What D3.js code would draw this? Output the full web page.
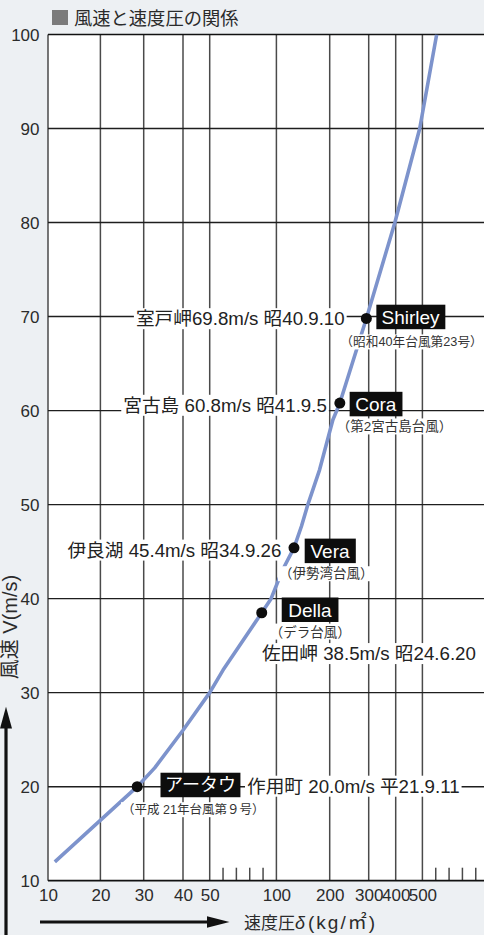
<!DOCTYPE html>
<html>
<head>
<meta charset="utf-8">
<script src="https://cdn.jsdelivr.net/npm/d3@7"></script>
<style>
  html, body { margin: 0; padding: 0; background: #edf0f3; }
  svg { display: block; font-family: "Liberation Sans", "Noto Sans CJK JP", sans-serif; }
</style>
</head>
<body>
<svg id="chart" width="484" height="935"></svg>
<script>
// 風速 V (m/s) と速度圧 δ (kg/m²) の関係曲線
const curvePressure = [11.3, 28.5, 32.8, 40, 50, 60, 89, 96, 112, 133, 147, 159, 181, 208, 226, 294, 397, 490, 607];
const curveSpeed    = [12.0, 20.0, 22.0, 26, 30, 32.4, 38.5, 40, 43.1, 45.4, 47.7, 50, 53.7, 59, 60.8, 69.8, 80, 90, 100];

// 主な台風の記録
const typhoonNames = ["アータウ", "Della", "Vera", "Cora", "Shirley"];
const typhoonRecords = ["作用町 20.0m/s 平21.9.11", "佐田岬 38.5m/s 昭24.6.20", "伊良湖 45.4m/s 昭34.9.26", "宮古島 60.8m/s 昭41.9.5", "室戸岬69.8m/s 昭40.9.10"];
const typhoonNotes = ["（平成 21年台風第９号）", "（デラ台風）", "（伊勢湾台風）", "（第2宮古島台風）", "（昭和40年台風第23号）"];
const typhoonSpeed = [20.0, 38.5, 45.4, 60.8, 69.8];
const typhoonPressure = [28.5, 89, 133, 226, 294];

// 目盛
const xBreaks = [10, 20, 30, 40, 50, 100, 200, 300, 400, 500, 1000];
const xTickLabels = [10, 20, 30, 40, 50, 100, 200, 300, 400, 500];
const xMinorTicks = [60, 70, 80, 90, 600, 700, 800, 900];
const yTicks = [10, 20, 30, 40, 50, 60, 70, 80, 90, 100];

const W = 484, H = 935;
const plotLeft = 48, plotTop = 34.5, plotBottom = 880.7;
const svg = d3.select("#chart");

// 横軸は区間ごとに目盛間隔が異なる折れ線スケール
const xOffsets = [0, 52.4, 95.7, 135, 161.7, 228.4, 281.7, 320.7, 347.7, 374.4, 441.1];
const x = d3.scaleLinear().domain(xBreaks).range(xOffsets.map(o => plotLeft + o));
const y = d3.scaleLinear().domain([10, 100]).range([plotBottom, plotTop]);

// タイトル
svg.append("rect").attr("x", 52).attr("y", 10).attr("width", 16).attr("height", 15).attr("fill", "#7b7b7b");
svg.append("text").attr("x", 74).attr("y", 24.5).attr("font-size", 18.3).attr("fill", "#2b2b2b")
  .text("風速と速度圧の関係");

// 描画領域
svg.append("rect").attr("x", plotLeft).attr("y", plotTop)
  .attr("width", W - plotLeft).attr("height", plotBottom - plotTop).attr("fill", "#fff");

svg.append("defs").append("clipPath").attr("id", "plot")
  .append("rect").attr("x", plotLeft).attr("y", plotTop)
  .attr("width", W - plotLeft).attr("height", plotBottom - plotTop);

// 縦の目盛線
svg.append("g").selectAll("line").data(xTickLabels).join("line")
  .attr("x1", d => x(d)).attr("x2", d => x(d))
  .attr("y1", plotTop).attr("y2", plotBottom)
  .attr("stroke", "#4a4a4a").attr("stroke-width", 1.5);

// 補助目盛
svg.append("g").selectAll("line").data(xMinorTicks).join("line")
  .attr("x1", d => x(d)).attr("x2", d => x(d))
  .attr("y1", plotBottom - 13).attr("y2", plotBottom)
  .attr("stroke", "#4a4a4a").attr("stroke-width", 1.5);

// 横の目盛線
svg.append("g").selectAll("line").data(yTicks).join("line")
  .attr("x1", plotLeft).attr("x2", W)
  .attr("y1", d => y(d)).attr("y2", d => y(d))
  .attr("stroke", d => (d === 10 || d === 100) ? "#111" : "#1e1e1e")
  .attr("stroke-width", d => (d === 10 || d === 100) ? 1.7 : 1.4);

// 目盛ラベル
const yAxis = svg.append("g").attr("transform", `translate(${plotLeft},0)`)
  .call(d3.axisLeft(y).tickValues(yTicks).tickSize(0).tickPadding(8.5).tickFormat(d3.format("d")));
yAxis.select(".domain").remove();
yAxis.selectAll("text").attr("font-size", 17).attr("font-family", null).attr("fill", "#2b2b2b").attr("dy", "0.36em");

const xAxis = svg.append("g").attr("transform", `translate(0,${plotBottom})`)
  .call(d3.axisBottom(x).tickValues(xTickLabels).tickSize(0).tickPadding(7.8).tickFormat(d3.format("d")));
xAxis.select(".domain").remove();
xAxis.selectAll("text").attr("font-size", 17).attr("font-family", null).attr("fill", "#2b2b2b");

// 関係曲線
const curveData = curvePressure.map((p, i) => [p, curveSpeed[i]]);
svg.append("path").datum(curveData)
  .attr("clip-path", "url(#plot)")
  .attr("d", d3.line().x(d => x(d[0])).y(d => y(d[1])))
  .attr("fill", "none").attr("stroke", "#7d93cc").attr("stroke-width", 3.6)
  .attr("stroke-linejoin", "round");

// 注記の配置（点からの相対位置）
const labelLayout = {
  "アータウ": { box: [23.3, -1.7], boxSize: 18, pad: 4.5, rec: [109.8, -0.7, "start"], note: [-15.2, 23], noteSize: 12.5 },
  "Della":   { box: [20, -3], boxSize: 19, pad: 6.5, rec: [0.2, 40.6, "start"], note: [8, 19], noteSize: 13.5 },
  "Vera":    { box: [10.7, 3], boxSize: 19, pad: 5.8, rec: [-12.6, 2, "end"], note: [-15, 25.5], noteSize: 13.5 },
  "Cora":    { box: [9.8, 1], boxSize: 19, pad: 5.6, rec: [-13, 2, "end"], note: [-3, 23.5], noteSize: 13.5 },
  "Shirley": { box: [10, -1.5], boxSize: 19, pad: 5.2, rec: [-21.7, 0, "end"], note: [-26, 23.4], noteSize: 12.7 }
};

const typhoons = typhoonNames.map((name, i) => ({
  name, record: typhoonRecords[i], note: typhoonNotes[i],
  v: typhoonSpeed[i], p: typhoonPressure[i]
}));

function textWithBackground(g, tx, ty, str, size, anchor, fill, bg, padX) {
  const t = g.append("text").attr("x", tx).attr("y", ty).attr("dy", "0.36em")
    .attr("font-size", size).attr("text-anchor", anchor).attr("fill", fill).text(str);
  const b = t.node().getBBox();
  g.insert("rect", () => t.node())
    .attr("x", b.x - padX).attr("y", b.y).attr("width", b.width + 2 * padX).attr("height", b.height)
    .attr("fill", bg);
  return t;
}

const notes = svg.append("g");
typhoons.forEach(d => {
  const L = labelLayout[d.name];
  const px = x(d.p), py = y(d.v);
  textWithBackground(notes, px + L.rec[0], py + L.rec[1], d.record, 18.7, L.rec[2], "#222", "#fff", 2);
  textWithBackground(notes, px + L.note[0], py + L.note[1], d.note, L.noteSize, "start", "#333", "#fff", 1);
});

svg.append("g").selectAll("circle").data(typhoons).join("circle")
  .attr("cx", d => x(d.p)).attr("cy", d => y(d.v)).attr("r", 5.5).attr("fill", "#0d0d0d");

const boxes = svg.append("g");
typhoons.forEach(d => {
  const L = labelLayout[d.name];
  const bx = x(d.p) + L.box[0], by = y(d.v) + L.box[1];
  const t = boxes.append("text").attr("x", bx + L.pad).attr("y", by).attr("dy", "0.36em")
    .attr("font-size", L.boxSize).attr("fill", "#fff").text(d.name);
  const w = t.node().getBBox().width;
  boxes.insert("rect", () => t.node())
    .attr("x", bx).attr("y", by - 12.25).attr("width", w + 2 * L.pad).attr("height", 24.5)
    .attr("fill", "#0d0d0d");
});

// 軸タイトルと矢印
svg.append("line").attr("x1", 6).attr("x2", 6).attr("y1", H).attr("y2", 726)
  .attr("stroke", "#111").attr("stroke-width", 3.2);
svg.append("path").attr("d", "M6,706.7L12,728.5L0,728.5Z").attr("fill", "#111");

svg.append("text").attr("transform", "translate(16.5,627) rotate(-90)")
  .attr("text-anchor", "middle").attr("font-size", 20).attr("fill", "#2b2b2b")
  .text("風速 V(m/s)");

svg.append("line").attr("x1", 40).attr("x2", 210).attr("y1", 922).attr("y2", 922)
  .attr("stroke", "#111").attr("stroke-width", 3.2);
svg.append("path").attr("d", "M229.5,922L207,916.3L207,927.7Z").attr("fill", "#111");

const xt = svg.append("text").attr("x", 244).attr("y", 928.5).attr("fill", "#2b2b2b");
xt.append("tspan").attr("font-size", 17).text("速度圧");
xt.append("tspan").attr("font-size", 18).attr("font-style", "italic").text("δ");
xt.append("tspan").attr("font-size", 19).attr("dx", 3).attr("letter-spacing", 2).text("(kg/㎡)");
</script>
</body>
</html>
